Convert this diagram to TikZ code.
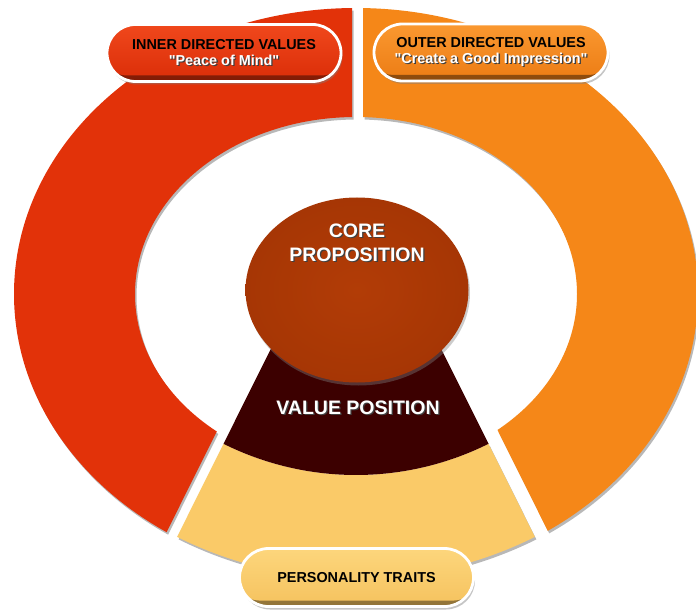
\documentclass[tikz,border=0pt]{standalone}
\usepackage{fontspec}
\setmainfont{Liberation Sans}[Ligatures=TeXOff]
\usetikzlibrary{shapes.misc,shapes.geometric,shadows}
\definecolor{ringred}{RGB}{226,50,9}
\definecolor{ringorange}{RGB}{245,135,24}
\definecolor{sand}{RGB}{250,202,104}
\definecolor{maroon}{RGB}{60,0,0}
\definecolor{rustin}{RGB}{178,60,6}
\definecolor{rustout}{RGB}{166,54,5}
\definecolor{pillredtop}{RGB}{240,72,28}
\definecolor{pillredbot}{RGB}{218,45,8}
\definecolor{pillorgtop}{RGB}{250,152,48}
\definecolor{pillorgbot}{RGB}{236,124,20}
\definecolor{pillsandtop}{RGB}{253,214,124}
\definecolor{pillsandbot}{RGB}{245,194,94}
\newcommand\wtxt[1]{\leavevmode\rlap{\kern1.3pt\raisebox{-1.3pt}{\color{black!75}#1}}{\color{white}#1}}
\tikzset{
  ringshadow/.style={fill=black, opacity=.28},
  pill/.style={rounded rectangle, draw=white, line width=2.8pt,
    minimum width=234pt, minimum height=57pt, inner sep=0pt, align=center,
    font=\fontsize{14.4}{16.4}\selectfont\bfseries,
    drop shadow={shadow xshift=1.5pt, shadow yshift=-3pt, opacity=.45},
    path picture={\draw[black, opacity=.4, line width=6pt, rounded corners=24pt]
      ([xshift=-5pt,yshift=3pt]path picture bounding box.south west) rectangle
      ([xshift=5pt,yshift=12pt]path picture bounding box.north east);}},
  bigtxt/.style={align=center, font=\fontsize{19.5}{24}\selectfont\bfseries, inner sep=0pt},
}
\begin{document}
\begin{tikzpicture}[x=1pt,y=-1pt]
\fill[white] (0,0) rectangle (696,612);
\useasboundingbox (0,0) rectangle (696,612);
% ---- red ring segment
\begin{scope}[shift={(1.5,2.5)}]
  \clip (352,-5) -- (-5,-5) -- (-5,620) -- (122.8,620) -- (282.3,300) -- (352,300) -- cycle;
  \fill[ringshadow, even odd rule] (356,294) ellipse [x radius=342pt, y radius=286pt]
       (356,294) ellipse [x radius=221pt, y radius=177pt];
\end{scope}
\begin{scope}
  \clip (352,-5) -- (-5,-5) -- (-5,620) -- (122.8,620) -- (282.3,300) -- (352,300) -- cycle;
  \fill[ringred, even odd rule] (356,294) ellipse [x radius=342pt, y radius=286pt]
       (356,294) ellipse [x radius=221pt, y radius=177pt];
\end{scope}
% ---- orange ring segment
\begin{scope}[shift={(1.5,2.5)}]
  \clip (363,-5) -- (701,-5) -- (701,620) -- (592.2,620) -- (432.7,300) -- (363,300) -- cycle;
  \fill[ringshadow, even odd rule] (356,294) ellipse [x radius=342pt, y radius=286pt]
       (356,294) ellipse [x radius=221pt, y radius=177pt];
\end{scope}
\begin{scope}
  \clip (363,-5) -- (701,-5) -- (701,620) -- (592.2,620) -- (432.7,300) -- (363,300) -- cycle;
  \fill[ringorange, even odd rule] (356,294) ellipse [x radius=342pt, y radius=286pt]
       (356,294) ellipse [x radius=221pt, y radius=177pt];
\end{scope}
% ---- personality sector
\begin{scope}[shift={(1.5,2.5)}]
  \fill[ringshadow] (223.5,443.8) arc[start angle=116.5, end angle=63.5, radius=297]
     -- (534.9,536.9) arc[start angle=63.5, end angle=116.5, radius=401] -- cycle;
\end{scope}
\fill[sand] (223.5,443.8) arc[start angle=116.5, end angle=63.5, radius=297]
   -- (534.9,536.9) arc[start angle=63.5, end angle=116.5, radius=401] -- cycle;
% ---- value position sector (its upper end hidden under the core)
\fill[maroon] (302.5,285.4) -- (223.5,443.8) arc[start angle=116.5, end angle=63.5, radius=297]
   -- (409.5,285.4) -- cycle;
% ---- core
\node[ellipse, minimum width=223pt, minimum height=185pt, inner sep=0pt,
      inner color=rustin, outer color=rustout,
      drop shadow={shadow xshift=1.5pt, shadow yshift=-3pt, opacity=.4}] (core) at (357,290) {};
\node[bigtxt] (coretxt) at (357,243) {\wtxt{CORE}\\\wtxt{PROPOSITION}};
\node[bigtxt] (valtxt) at (358,408) {\wtxt{VALUE POSITION}};
% ---- pills
\node[pill, top color=pillredtop, bottom color=pillredbot] (inner) at (224,53)
  {INNER DIRECTED VALUES\\\wtxt{"Peace of Mind"}};
\node[pill, top color=pillorgtop, bottom color=pillorgbot] (outer) at (491,52.5)
  {OUTER DIRECTED VALUES\\\wtxt{"Create a Good Impression"}};
\node[pill, top color=pillsandtop, bottom color=pillsandbot, minimum height=58pt] (traits) at (356.5,577.5)
  {PERSONALITY TRAITS};
\end{tikzpicture}
\end{document}
